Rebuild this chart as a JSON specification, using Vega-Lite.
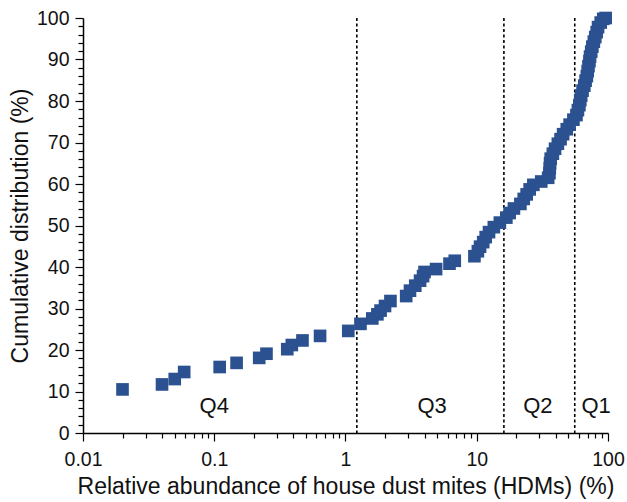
{
  "$schema": "https://vega.github.io/schema/vega-lite/v6.json",
  "width": 525,
  "height": 415,
  "autosize": "none",
  "padding": {"left": 83, "top": 18, "right": 19, "bottom": 69},
  "background": "white",
  "config": {
    "view": {"stroke": null},
    "font": "Liberation Sans",
    "axis": {"labelFont": "Liberation Sans", "titleFont": "Liberation Sans", "labelColor": "#111", "titleColor": "#111", "domainColor": "#000", "tickColor": "#000", "domainWidth": 1.5, "tickWidth": 1.2, "grid": false, "titleFontWeight": "normal"}
  },
  "resolve": {"axis": {"x": "independent", "y": "independent"}},
  "datasets": {
    "points": [
      {"abundance": 0.020, "cumulative": 10.5},
      {"abundance": 0.040, "cumulative": 11.7},
      {"abundance": 0.050, "cumulative": 13.0},
      {"abundance": 0.059, "cumulative": 14.7},
      {"abundance": 0.110, "cumulative": 15.9},
      {"abundance": 0.148, "cumulative": 16.9},
      {"abundance": 0.22, "cumulative": 18.1},
      {"abundance": 0.25, "cumulative": 19.1},
      {"abundance": 0.36, "cumulative": 20.2},
      {"abundance": 0.39, "cumulative": 21.2},
      {"abundance": 0.47, "cumulative": 22.3},
      {"abundance": 0.64, "cumulative": 23.4},
      {"abundance": 1.05, "cumulative": 24.6},
      {"abundance": 1.3, "cumulative": 26.3},
      {"abundance": 1.6, "cumulative": 27.6},
      {"abundance": 1.75, "cumulative": 28.6},
      {"abundance": 1.85, "cumulative": 29.5},
      {"abundance": 2.0, "cumulative": 30.6},
      {"abundance": 2.2, "cumulative": 31.8},
      {"abundance": 2.9, "cumulative": 33.0},
      {"abundance": 3.1, "cumulative": 34.3},
      {"abundance": 3.4, "cumulative": 35.5},
      {"abundance": 3.7, "cumulative": 36.7},
      {"abundance": 3.9, "cumulative": 37.8},
      {"abundance": 4.0, "cumulative": 38.8},
      {"abundance": 4.9, "cumulative": 39.5},
      {"abundance": 6.2, "cumulative": 40.8},
      {"abundance": 6.8, "cumulative": 41.5},
      {"abundance": 9.6, "cumulative": 42.6},
      {"abundance": 10.2, "cumulative": 43.8},
      {"abundance": 10.6, "cumulative": 44.9},
      {"abundance": 11.2, "cumulative": 46.0},
      {"abundance": 11.7, "cumulative": 47.2},
      {"abundance": 12.4, "cumulative": 48.4},
      {"abundance": 13.5, "cumulative": 49.6},
      {"abundance": 15.0, "cumulative": 50.7},
      {"abundance": 16.8, "cumulative": 51.9},
      {"abundance": 17.8, "cumulative": 53.0},
      {"abundance": 19.2, "cumulative": 54.1},
      {"abundance": 21.5, "cumulative": 55.2},
      {"abundance": 22.8, "cumulative": 56.4},
      {"abundance": 24.0, "cumulative": 57.5},
      {"abundance": 25.3, "cumulative": 58.7},
      {"abundance": 27.0, "cumulative": 59.8},
      {"abundance": 31.0, "cumulative": 60.6},
      {"abundance": 35.0, "cumulative": 61.5},
      {"abundance": 35.8, "cumulative": 62.6},
      {"abundance": 36.0, "cumulative": 63.8},
      {"abundance": 36.2, "cumulative": 65.0},
      {"abundance": 36.6, "cumulative": 66.1},
      {"abundance": 38.0, "cumulative": 67.3},
      {"abundance": 39.5, "cumulative": 68.5},
      {"abundance": 41.5, "cumulative": 69.7},
      {"abundance": 43.5, "cumulative": 70.8},
      {"abundance": 45.5, "cumulative": 72.0},
      {"abundance": 48.5, "cumulative": 73.2},
      {"abundance": 51.0, "cumulative": 74.3},
      {"abundance": 54.5, "cumulative": 75.5},
      {"abundance": 57.5, "cumulative": 76.6},
      {"abundance": 59.0, "cumulative": 77.8},
      {"abundance": 60.5, "cumulative": 79.0},
      {"abundance": 61.5, "cumulative": 80.2},
      {"abundance": 62.5, "cumulative": 81.3},
      {"abundance": 64.0, "cumulative": 82.5},
      {"abundance": 66.0, "cumulative": 83.7},
      {"abundance": 67.5, "cumulative": 84.9},
      {"abundance": 69.0, "cumulative": 86.0},
      {"abundance": 70.0, "cumulative": 87.2},
      {"abundance": 71.0, "cumulative": 88.4},
      {"abundance": 72.2, "cumulative": 89.6},
      {"abundance": 73.0, "cumulative": 90.7},
      {"abundance": 74.5, "cumulative": 91.9},
      {"abundance": 76.0, "cumulative": 93.1},
      {"abundance": 78.0, "cumulative": 94.3},
      {"abundance": 80.0, "cumulative": 95.4},
      {"abundance": 82.0, "cumulative": 96.6},
      {"abundance": 84.0, "cumulative": 97.8},
      {"abundance": 88.0, "cumulative": 98.9},
      {"abundance": 92.0, "cumulative": 99.8},
      {"abundance": 96.0, "cumulative": 100.0}
    ],
    "cutoffs": [
      {"abundance": 1.22},
      {"abundance": 16.1},
      {"abundance": 55.8}
    ],
    "quartiles": [
      {"label": "Q4", "abundance": 0.1, "cumulative": 6.4},
      {"label": "Q3", "abundance": 4.57, "cumulative": 6.4},
      {"label": "Q2", "abundance": 29.2, "cumulative": 6.4},
      {"label": "Q1", "abundance": 81.2, "cumulative": 6.4}
    ]
  },
  "layer": [
    {
      "data": {"name": "cutoffs"},
      "mark": {"type": "rule", "color": "#000", "strokeWidth": 1.6, "strokeDash": [3, 2.5]},
      "encoding": {
        "x": {
          "field": "abundance", "type": "quantitative",
          "axis": {
            "orient": "bottom", "title": null, "labels": false, "domain": false,
            "tickSize": 5,
            "values": [0.02,0.03,0.04,0.05,0.06,0.07,0.08,0.09,0.2,0.3,0.4,0.5,0.6,0.7,0.8,0.9,2,3,4,5,6,7,8,9,20,30,40,50,60,70,80,90]
          }
        }
      }
    },
    {
      "data": {"name": "points"},
      "mark": {"type": "square", "filled": true, "size": 160, "color": "#2c5190", "opacity": 1},
      "encoding": {
        "x": {
          "field": "abundance", "type": "quantitative",
          "scale": {"type": "log", "domain": [0.01, 100], "nice": false},
          "axis": {
            "orient": "bottom",
            "title": "Relative abundance of house dust mites (HDMs) (%)",
            "titleFontSize": 23, "titlePadding": 7,
            "labelFontSize": 19.5, "labelPadding": 9,
            "tickSize": 8,
            "values": [0.01, 0.1, 1, 10, 100],
            "labelExpr": "'' + datum.value",
            "labelFlush": false, "labelOverlap": false
          }
        },
        "y": {
          "field": "cumulative", "type": "quantitative",
          "scale": {"domain": [0, 100], "nice": false},
          "axis": {
            "orient": "left",
            "title": "Cumulative distribution (%)",
            "titleFontSize": 23, "titlePadding": 4,
            "labelFontSize": 19.5, "labelPadding": 6,
            "tickSize": 8,
            "values": [0, 10, 20, 30, 40, 50, 60, 70, 80, 90, 100],
            "labelFlush": false, "labelOverlap": false
          }
        }
      }
    },
    {
      "data": {"name": "quartiles"},
      "mark": {"type": "text", "fontSize": 22, "color": "#111", "font": "Liberation Sans", "align": "center", "baseline": "middle"},
      "encoding": {
        "x": {"field": "abundance", "type": "quantitative", "axis": null},
        "y": {
          "field": "cumulative", "type": "quantitative",
          "axis": {
            "orient": "left", "title": null, "labels": false, "domain": false,
            "tickSize": 5,
            "values": [2,4,6,8,12,14,16,18,22,24,26,28,32,34,36,38,42,44,46,48,52,54,56,58,62,64,66,68,72,74,76,78,82,84,86,88,92,94,96,98]
          }
        },
        "text": {"field": "label"}
      }
    }
  ]
}
